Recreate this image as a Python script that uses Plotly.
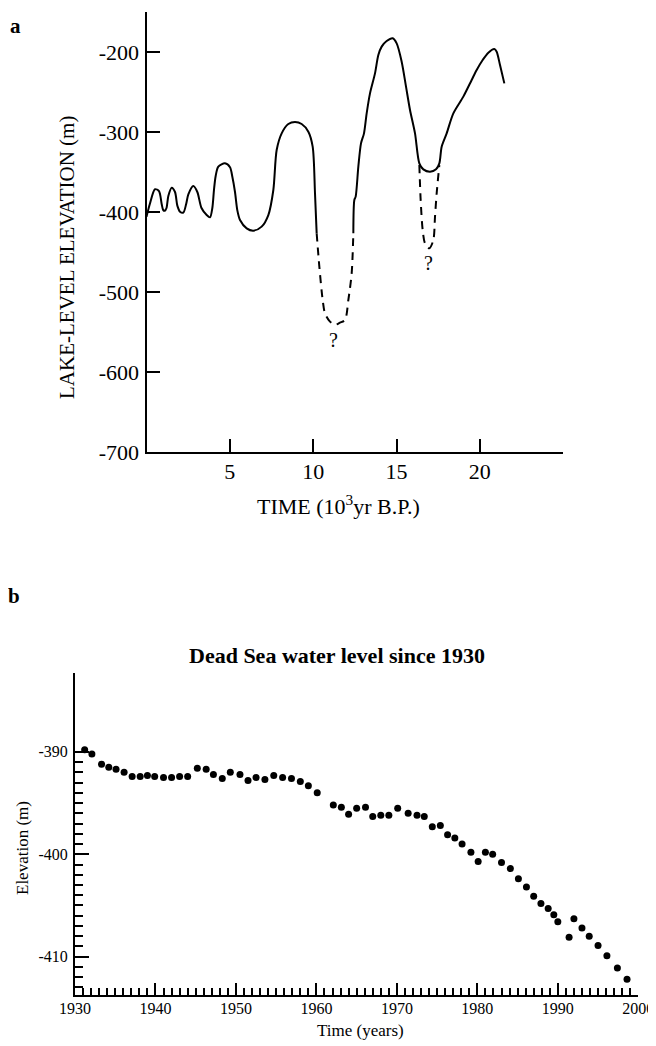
import plotly.graph_objects as go

W, H = 656, 1046          # browser window
OFF = 8                   # page body margin of the browser
FW, FH = W - OFF, H - OFF  # figure size so that it fits the window exactly
FONT = "Liberation Serif, Times New Roman, serif"

# ---------------- Panel a data (lake-level reconstruction) ----------------
solid1_x = [0.0, 0.2, 0.51, 0.75, 0.91, 1.0, 1.1, 1.2, 1.31, 1.51, 1.71, 1.85, 2.01, 2.21,
            2.38, 2.51, 2.81, 3.05, 3.3, 3.61, 3.81, 3.95, 4.05, 4.15, 4.31, 4.71, 5.01, 5.15,
            5.31, 5.45, 5.61, 6.01, 6.41, 6.91, 7.31, 7.61, 7.81, 8.11, 8.51, 8.91, 9.31,
            9.71, 9.97, 10.11, 10.21]
solid1_y = [-406.0, -390.0, -371.6, -374.0, -390.0, -397.5, -398.5, -395.0, -380.0, -369.6,
            -375.0, -392.0, -399.6, -400.8, -390.0, -378.0, -367.5, -375.0, -395.0, -403.8,
            -406.7, -395.0, -372.0, -355.0, -343.3, -339.2, -344.0, -356.0, -375.0, -398.0,
            -410.0, -420.4, -423.3, -418.3, -403.8, -372.5, -322.5, -301.7, -290.0, -287.5,
            -290.0, -299.6, -318.3, -376.7, -426.7]

dash1_x = [10.21, 10.37, 10.57, 10.71, 11.01, 11.31, 11.61, 11.91, 12.11, 12.31, 12.41]
dash1_y = [-426.7, -468.3, -510.0, -526.7, -537.0, -541.0, -538.3, -535.0, -510.0, -476.7, -426.7]

solid2_x = [12.41, 12.47, 12.55, 12.71, 12.87, 13.05, 13.21, 13.41, 13.71, 13.91, 14.11, 14.41,
            14.77, 15.01, 15.31, 15.57, 15.81, 16.11, 16.37, 16.61, 17.01, 17.37, 17.57, 17.71,
            18.01, 18.41, 19.01, 19.51, 19.81, 20.17, 20.51, 20.87, 21.01, 21.21, 21.47]
solid2_y = [-426.7, -385.0, -380.8, -343.3, -314.2, -301.7, -276.7, -251.7, -226.7, -203.8,
            -193.3, -186.3, -182.9, -189.2, -212.1, -243.3, -272.5, -301.7, -339.2, -346.7,
            -349.6, -346.7, -339.2, -318.3, -301.7, -276.7, -255.8, -235.0, -222.5, -210.0,
            -200.8, -196.3, -199.6, -216.3, -239.2]

dash2_x = [16.37, 16.45, 16.57, 16.71, 16.97, 17.21, 17.31, 17.41, 17.57]
dash2_y = [-341.3, -385.0, -422.5, -439.2, -445.4, -435.0, -405.8, -376.7, -341.3]

qmark_x = [11.21, 16.91]
qmark_y = [-560.0, -464.2]
qmark_text = ["?", "?"]

a_xticks = [5, 10, 15, 20]
a_yticks = [-200, -300, -400, -500, -600, -700]

# ---------------- Panel b data (Dead Sea level since 1930) ----------------
years = [1931.2, 1932.1, 1933.3, 1934.2, 1935.1, 1936.1, 1937.1, 1938.1, 1939.0, 1939.9,
         1941.0, 1942.0, 1943.0, 1944.0, 1945.2, 1946.3, 1947.2, 1948.3, 1949.3, 1950.5,
         1951.5, 1952.5, 1953.6, 1954.7, 1955.8, 1956.9, 1958.0, 1959.0, 1960.1,
         1962.1, 1963.1, 1964.0, 1965.0, 1966.1, 1967.0, 1968.0, 1969.0, 1970.1, 1971.4,
         1972.5, 1973.4, 1974.4, 1975.4, 1976.3, 1977.2, 1978.1, 1979.2, 1980.1, 1981.0,
         1981.9, 1983.0, 1984.1, 1985.1, 1986.1, 1987.0, 1987.9, 1988.8, 1989.5, 1990.0,
         1991.4, 1992.0, 1993.0, 1993.9, 1995.0, 1996.1, 1997.4, 1998.6]
levels = [-389.8, -390.2, -391.2, -391.5, -391.7, -392.0, -392.4, -392.4, -392.3, -392.4,
          -392.5, -392.5, -392.4, -392.4, -391.6, -391.7, -392.2, -392.6, -392.0, -392.2,
          -392.8, -392.5, -392.7, -392.3, -392.5, -392.6, -392.9, -393.3, -394.0,
          -395.2, -395.4, -396.1, -395.5, -395.4, -396.3, -396.2, -396.2, -395.5, -396.0,
          -396.2, -396.3, -397.3, -397.2, -398.1, -398.4, -399.0, -399.8, -400.7, -399.8,
          -400.0, -400.8, -401.4, -402.4, -403.2, -404.1, -404.8, -405.3, -405.9, -406.6,
          -408.1, -406.3, -407.2, -408.0, -408.9, -409.9, -411.1, -412.2]

b_xticks = [1930, 1940, 1950, 1960, 1970, 1980, 1990, 2000]
b_xminor = [y for y in range(1931, 2000) if y % 10 != 0]
b_yticks = [-390, -400, -410]
b_yminor = [v for v in range(-413, -390) if v % 10 != 0]


def px_x(p):
    return (p - OFF) / FW


def px_y(p):
    return 1 - (p - OFF) / FH


fig = go.Figure()

for xs, ys, dash in [(solid1_x, solid1_y, "solid"), (dash1_x, dash1_y, "8px,6px"),
                     (solid2_x, solid2_y, "solid"), (dash2_x, dash2_y, "8px,6px")]:
    fig.add_trace(go.Scatter(x=xs, y=ys, mode="lines", xaxis="x", yaxis="y",
                             line=dict(color="black", width=2, dash=dash,
                                       shape="spline", smoothing=0.8),
                             showlegend=False, hoverinfo="skip"))

fig.add_trace(go.Scatter(x=years, y=levels, mode="markers", xaxis="x2", yaxis="y2",
                         marker=dict(color="black", size=7, line=dict(width=0)),
                         showlegend=False))

a_left, a_right = 146.5, 146.5 + 25 * 16.667
a_top, a_bot = 12, 452
b_left, b_right = 75, 638.3
b_top, b_bot = 673, 995

axis_common = dict(showline=True, linecolor="black", showgrid=False, zeroline=False,
                   ticks="inside", tickcolor="black", mirror=False, automargin=False)

fig.update_layout(
    template="none",
    width=FW, height=FH,
    margin=dict(l=0, r=0, t=0, b=0, pad=0),
    paper_bgcolor="white", plot_bgcolor="white",
    font=dict(family=FONT, color="black"),
    xaxis=dict(domain=[px_x(a_left), px_x(a_right)], range=[0, 25], anchor="y",
               tickmode="array", tickvals=a_xticks, ticktext=[str(v) for v in a_xticks],
               ticklen=13, tickwidth=2, linewidth=2,
               tickfont=dict(size=22, family=FONT), ticklabelstandoff=-1, **axis_common),
    yaxis=dict(domain=[px_y(a_bot), px_y(a_top)], range=[-700, -150], anchor="x",
               tickmode="array", tickvals=a_yticks, ticktext=[str(v) for v in a_yticks],
               ticklen=13, tickwidth=2, linewidth=2,
               tickfont=dict(size=22, family=FONT), ticklabelstandoff=1, **axis_common),
    xaxis2=dict(domain=[px_x(b_left), px_x(b_right)], range=[1930, 2000], anchor="y2",
                tickmode="array", tickvals=b_xticks, ticktext=[str(v) for v in b_xticks],
                ticklen=12, tickwidth=2, linewidth=2,
                minor=dict(tickmode="array", tickvals=b_xminor, ticks="inside",
                           ticklen=7, tickwidth=1.5, tickcolor="black", showgrid=False),
                tickfont=dict(size=16, family=FONT), ticklabelstandoff=-2, **axis_common),
    yaxis2=dict(domain=[px_y(b_bot), px_y(b_top)], range=[-413.74, -382.3], anchor="x2",
                tickmode="array", tickvals=b_yticks, ticktext=[str(v) for v in b_yticks],
                ticklen=14, tickwidth=2, linewidth=2,
                minor=dict(tickmode="array", tickvals=b_yminor, ticks="inside",
                           ticklen=8, tickwidth=1.5, tickcolor="black", showgrid=False),
                tickfont=dict(size=16, family=FONT), ticklabelstandoff=2, **axis_common),
)

annotations = [
    dict(text="<b>a</b>", x=px_x(15), y=px_y(26), font=dict(size=21)),
    dict(text="<b>b</b>", x=px_x(14), y=px_y(596), font=dict(size=21)),
    dict(text="LAKE-LEVEL ELEVATION (m)", x=px_x(67), y=px_y(258), font=dict(size=21),
         textangle=-90),
    dict(text="TIME (10<sup>3</sup>yr B.P.)", x=px_x(338), y=px_y(505), font=dict(size=22)),
    dict(text="<b>Dead Sea water level since 1930</b>", x=px_x(337), y=px_y(655),
         font=dict(size=22)),
    dict(text="Elevation (m)", x=px_x(22), y=px_y(848), font=dict(size=17), textangle=-90),
    dict(text="Time (years)", x=px_x(360), y=px_y(1030), font=dict(size=17)),
]
for a in annotations:
    a.update(xref="paper", yref="paper")
for qx, qy, qt in zip(qmark_x, qmark_y, qmark_text):
    annotations.append(dict(text=qt, x=qx, y=qy, xref="x", yref="y", font=dict(size=20)))
for a in annotations:
    a.update(showarrow=False, xanchor="center", yanchor="middle")
    a["font"].update(family=FONT, color="black")
fig.update_layout(annotations=annotations)

fig.write_html("out.html")
